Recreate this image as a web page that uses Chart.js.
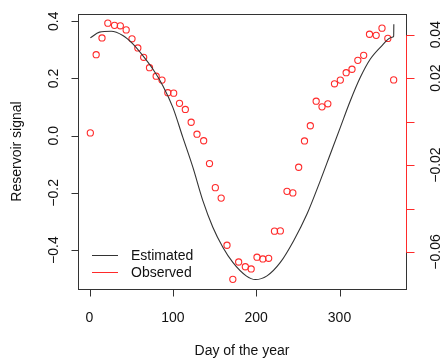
<!DOCTYPE html>
<html>
<head>
<meta charset="utf-8">
<script src="https://cdn.jsdelivr.net/npm/chart.js@4.4.0/dist/chart.umd.min.js"></script>
<style>
  html, body { margin: 0; padding: 0; background: #fff; }
  canvas { display: block; }
</style>
</head>
<body>
<canvas id="chart" width="442" height="360"></canvas>
<script>
// Observed points (right axis)
const obsDays = [1, 8, 15, 22, 30, 37, 44, 51, 58, 65, 72, 80, 87, 94, 101, 108, 115, 122, 129, 137,
  144, 151, 158, 165, 172, 179, 187, 194, 201, 208, 215, 222, 229, 237, 244, 251, 258, 265, 272, 279,
  286, 294, 301, 308, 315, 322, 329, 336, 344, 351, 358, 365];
const obsSignal = [-0.0052, 0.0308, 0.0385, 0.0453, 0.0443, 0.0441, 0.0422, 0.0381, 0.0339, 0.0296,
  0.0248, 0.0209, 0.0191, 0.0133, 0.0131, 0.0084, 0.0056, -0.0003, -0.0058, -0.0088,
  -0.0193, -0.0304, -0.0352, -0.0569, -0.0726, -0.0646, -0.0668, -0.0678, -0.0624, -0.0632,
  -0.0629, -0.0504, -0.0503, -0.0321, -0.0328, -0.0210, -0.0089, -0.0019, 0.0094, 0.0068,
  0.0082, 0.0174, 0.0191, 0.0225, 0.0241, 0.0282, 0.0305, 0.0402, 0.0397, 0.0430,
  0.0383, 0.0192];

// Estimated curve (left axis)
const estDays = [1, 12, 26, 40, 52, 64, 76, 88, 100, 112, 124, 136, 148, 160, 172, 188, 199, 213,
  229, 245, 261, 277, 289, 301, 313, 325, 337, 349, 363, 365, 365.2];
const estSignal = [0.342, 0.362, 0.365, 0.350, 0.321, 0.280, 0.233, 0.175, 0.099, -0.006, -0.110,
  -0.227, -0.320, -0.390, -0.443, -0.490, -0.503, -0.490, -0.443, -0.367, -0.274, -0.157, -0.064,
  0.029, 0.122, 0.204, 0.268, 0.309, 0.344, 0.348, 0.390];

// Axis ticks
const xTicks = [0, 100, 200, 300];
const leftTicks = [-0.4, -0.2, 0, 0.2, 0.4];
const leftLabels = ['\u22120.4', '\u22120.2', '0.0', '0.2', '0.4'];
const rightTicks = [-0.06, -0.04, -0.02, 0, 0.02, 0.04];
const rightLabels = ['\u22120.06', '', '\u22120.02', '', '0.02', '0.04'];
const seriesNames = ['Estimated', 'Observed'];

const FONT = '14px "Liberation Sans", Arial, sans-serif';
const RED = '#ff2a2a';
const INK = '#333';

// Texto girado (estilo R, de abajo hacia arriba)
function rotatedText(ctx, text, x, y) {
  ctx.save();
  ctx.translate(x, y);
  ctx.rotate(-Math.PI / 2);
  ctx.textAlign = 'center';
  ctx.textBaseline = 'alphabetic';
  ctx.fillText(text, 0, 0);
  ctx.restore();
}

// Caja, ejes y leyenda al estilo de R base graphics
const rAxes = {
  id: 'rAxes',
  afterDraw(chart) {
    const { ctx, chartArea: a, scales } = chart;
    const L = Math.round(a.left) + 0.5;
    const R = Math.round(a.right) + 0.5;
    const T = Math.round(a.top) + 0.5;
    const B = Math.round(a.bottom) + 0.5;

    ctx.save();
    ctx.lineWidth = 1;
    ctx.strokeStyle = INK;
    ctx.strokeRect(L, T, R - L, B - T);

    ctx.font = FONT;
    ctx.fillStyle = '#111';

    // eje x
    ctx.beginPath();
    xTicks.forEach(v => {
      const px = Math.round(scales.x.getPixelForValue(v)) + 0.5;
      ctx.moveTo(px, B);
      ctx.lineTo(px, B + 7);
    });
    ctx.stroke();
    ctx.textAlign = 'center';
    ctx.textBaseline = 'alphabetic';
    xTicks.forEach(v => {
      ctx.fillText(String(v), scales.x.getPixelForValue(v), 322);
    });
    ctx.fillText('Day of the year', (a.left + a.right) / 2, 355);

    // eje izquierdo
    ctx.beginPath();
    leftTicks.forEach(v => {
      const py = Math.round(scales.y.getPixelForValue(v)) + 0.5;
      ctx.moveTo(L - 7, py);
      ctx.lineTo(L, py);
    });
    ctx.stroke();
    leftTicks.forEach((v, i) => {
      rotatedText(ctx, leftLabels[i], 58, scales.y.getPixelForValue(v));
    });
    rotatedText(ctx, 'Reservoir signal', 21, (a.top + a.bottom) / 2);

    // eje derecho (rojo)
    ctx.strokeStyle = RED;
    ctx.beginPath();
    const rTop = Math.round(scales.y2.getPixelForValue(rightTicks[rightTicks.length - 1])) + 0.5;
    const rBot = Math.round(scales.y2.getPixelForValue(rightTicks[0])) + 0.5;
    ctx.moveTo(R, rTop);
    ctx.lineTo(R, rBot);
    rightTicks.forEach(v => {
      const py = Math.round(scales.y2.getPixelForValue(v)) + 0.5;
      ctx.moveTo(R, py);
      ctx.lineTo(R + 8, py);
    });
    ctx.stroke();
    rightTicks.forEach((v, i) => {
      if (rightLabels[i]) rotatedText(ctx, rightLabels[i], 439.5, scales.y2.getPixelForValue(v));
    });

    // leyenda
    const legendColors = [INK, RED];
    const legendY = [255.5, 272.5];
    ctx.textAlign = 'left';
    seriesNames.forEach((name, i) => {
      ctx.strokeStyle = legendColors[i];
      ctx.beginPath();
      ctx.moveTo(a.left + 14, legendY[i]);
      ctx.lineTo(a.left + 40, legendY[i]);
      ctx.stroke();
      ctx.fillStyle = '#111';
      ctx.fillText(name, a.left + 53, legendY[i] + 4);
    });
    ctx.restore();
  }
};

new Chart(document.getElementById('chart'), {
  type: 'line',
  data: {
    datasets: [{
      label: seriesNames[0],
      data: estDays.map((d, i) => ({ x: d, y: estSignal[i] })),
      yAxisID: 'y',
      borderColor: INK,
      borderWidth: 1.1,
      pointRadius: 0,
      cubicInterpolationMode: 'monotone',
      fill: false
    }, {
      label: seriesNames[1],
      data: obsDays.map((d, i) => ({ x: d, y: obsSignal[i] })),
      yAxisID: 'y2',
      showLine: false,
      pointRadius: 3.1,
      pointBorderWidth: 1.1,
      pointBorderColor: RED,
      pointBackgroundColor: 'rgba(0,0,0,0)'
    }]
  },
  options: {
    responsive: false,
    animation: false,
    devicePixelRatio: 1,
    layout: {
      padding: { left: 78, top: 14, right: 36, bottom: 71 }
    },
    plugins: {
      legend: { display: false },
      tooltip: { enabled: false }
    },
    scales: {
      x: { type: 'linear', display: false, min: -13.8, max: 379.8 },
      y: { type: 'linear', display: false, min: -0.536, max: 0.4255 },
      y2: { type: 'linear', display: false, position: 'right', min: -0.07703, max: 0.04952 }
    }
  },
  plugins: [rAxes]
});
</script>
</body>
</html>
